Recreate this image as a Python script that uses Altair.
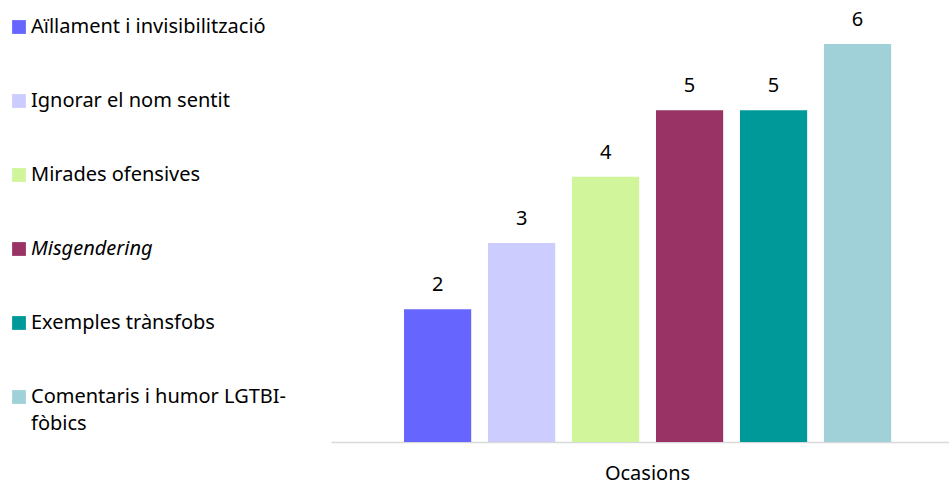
import altair as alt
import pandas as pd

# Number of occasions reported for each kind of situation
categories = [
    "Aïllament i invisibilització",
    "Ignorar el nom sentit",
    "Mirades ofensives",
    "Misgendering",
    "Exemples trànsfobs",
    "Comentaris i humor LGTBI-fòbics",
]
values = [2, 3, 4, 5, 5, 6]
colors = ["#6666FF", "#CCCCFF", "#D0F59A", "#993366", "#009999", "#A0D0D8"]
group_label = "Ocasions"

df = pd.DataFrame({"categoria": categories, "ocasions": values})

FONT = "Noto Sans"
FS = 20

x = alt.X(
    "categoria:N",
    sort=categories,
    scale=alt.Scale(paddingInner=0.2, paddingOuter=0.779, align=0.558),
    axis=alt.Axis(
        title=group_label,
        labels=False,
        ticks=False,
        domainColor="#D9D9D9",
        domainWidth=1.5,
        titleFont=FONT,
        titleFontSize=FS,
        titleFontWeight="normal",
        titleColor="#000000",
        titleX=316,
        titleY=37,
        titleBaseline="alphabetic",
        titleAlign="center",
    ),
)

y = alt.Y(
    "ocasions:Q",
    scale=alt.Scale(domain=[0, 6], nice=False),
    axis=None,
)

color = alt.Color(
    "categoria:N",
    sort=categories,
    scale=alt.Scale(domain=categories, range=colors),
    legend=alt.Legend(
        title=None,
        orient="none",
        legendX=-322,
        legendY=-27,
        symbolType="square",
        symbolSize=190,
        symbolStrokeWidth=0,
        labelFont=FONT,
        labelFontSize=FS,
        labelColor="#000000",
        labelOffset=2,
        labelLimit=400,
        rowPadding=54,
        labelFontStyle=alt.ExprRef(
            expr="datum.label == 'Misgendering' ? 'italic' : 'normal'"
        ),
        labelExpr=(
            "datum.label == 'Comentaris i humor LGTBI-fòbics' ? "
            "['Comentaris i humor LGTBI-', 'fòbics'] : datum.label"
        ),
    ),
)

bars = alt.Chart(df).mark_bar().encode(x=x, y=y, color=color)

labels = alt.Chart(df).mark_text(
    font=FONT, fontSize=FS, color="#000000", baseline="alphabetic", dy=-18
).encode(x=alt.X("categoria:N", sort=categories), y="ocasions:Q", text="ocasions:Q")

chart = (
    alt.layer(bars, labels)
    .properties(
        width=618,
        height=398,
        padding={"left": 331, "top": 44, "right": 0, "bottom": 42},
        autosize=alt.AutoSizeParams(type="none"),
    )
    .configure(
        view={"stroke": None},
        style={"guide-label": {"lineHeight": 27}},
    )
)

chart.save("out.html", embed_options={"renderer": "svg", "actions": False})
